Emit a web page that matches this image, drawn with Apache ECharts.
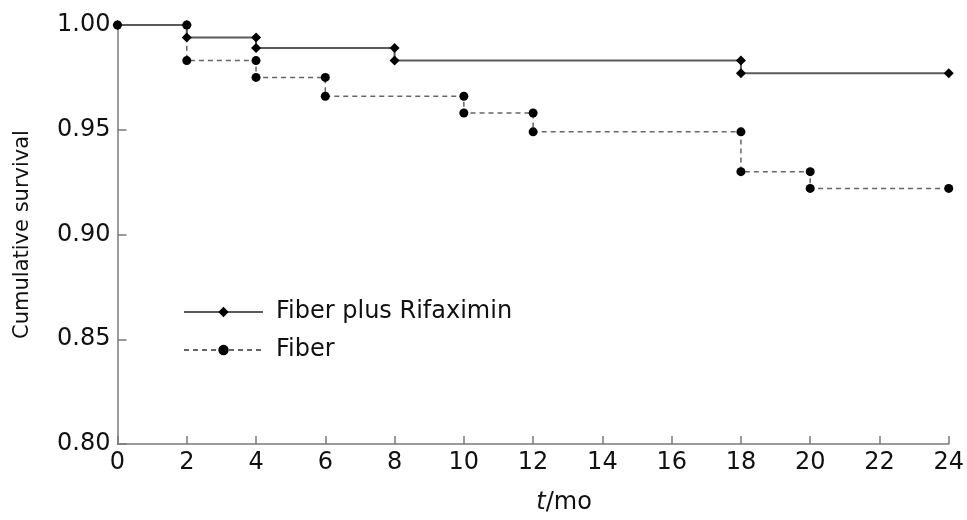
<!DOCTYPE html>
<html>
<head>
<meta charset="utf-8">
<script src="https://cdn.jsdelivr.net/npm/echarts@6/dist/echarts.min.js"></script>
<style>
  html, body { margin: 0; padding: 0; background: #fff; }
  #chart { width: 967px; height: 520px; }
</style>
</head>
<body>
<div id="chart"></div>
<script>
// Kaplan-Meier style survival
const xTicks = [0, 2, 4, 6, 8, 10, 12, 14, 16, 18, 20, 22, 24];

const rifaxName = 'Fiber plus Rifaximin';
const rifaxTimes = [0, 2, 4, 8, 18, 24];
const rifaxSurvival = [1.000, 0.994, 0.989, 0.983, 0.977, 0.977];

const fiberName = 'Fiber';
const fiberTimes = [0, 2, 4, 6, 10, 12, 18, 20, 24];
const fiberSurvival = [1.000, 0.983, 0.975, 0.966, 0.958, 0.949, 0.930, 0.922, 0.922];

// turn event times into step points (top and bottom of every drop)
function stepPoints(times, surv) {
  const pts = [];
  times.forEach((t, i) => {
    if (i > 0 && surv[i] !== surv[i - 1]) pts.push([t, surv[i - 1]]);
    pts.push([t, surv[i]]);
  });
  return pts;
}

const font = 'DejaVu Sans, Verdana, sans-serif';
const axisColor = '#7a7a7a';

const chart = echarts.init(document.getElementById('chart'));

chart.setOption({
  animation: false,
  backgroundColor: '#fff',
  textStyle: { fontFamily: font },
  grid: { left: 117.5, right: 15.5, top: 25, bottom: 73.3 },
  legend: {
    orient: 'vertical',
    left: 183,
    top: 299,
    padding: 0,
    itemWidth: 79,
    itemHeight: 13,
    itemGap: 12,
    textStyle: { fontSize: 24, color: '#111', lineHeight: 26, padding: [0, 0, 0, 8], fontFamily: font },
    data: [rifaxName, fiberName]
  },
  xAxis: {
    type: 'value',
    min: 0,
    max: 24,
    interval: 2,
    name: '{i|t}/mo',
    nameLocation: 'middle',
    nameGap: 47,
    nameTextStyle: {
      fontSize: 24,
      color: '#111',
      padding: [0, 0, 0, 62],
      rich: { i: { fontStyle: 'italic', fontSize: 24, color: '#111', fontFamily: font } }
    },
    axisLine: { lineStyle: { color: axisColor, width: 1.5 } },
    axisTick: { inside: true, length: 8, lineStyle: { color: axisColor, width: 1.5 } },
    axisLabel: {
      fontSize: 24, color: '#111', margin: 7,
      formatter: v => (xTicks.includes(v) ? String(v) : '')
    },
    splitLine: { show: false }
  },
  yAxis: {
    type: 'value',
    min: 0.80,
    max: 1.00,
    interval: 0.05,
    name: 'Cumulative survival',
    nameLocation: 'middle',
    nameGap: 84,
    nameTextStyle: { fontSize: 21, color: '#111' },
    axisLine: { show: true, lineStyle: { color: axisColor, width: 1.5 } },
    axisTick: { show: true, inside: true, length: 9, lineStyle: { color: axisColor, width: 1.5 } },
    axisLabel: { fontSize: 24, color: '#111', margin: 7, formatter: v => v.toFixed(2) },
    splitLine: { show: false }
  },
  series: [
    {
      name: fiberName,
      type: 'line',
      data: stepPoints(fiberTimes, fiberSurvival),
      symbol: 'circle',
      symbolSize: 9,
      itemStyle: { color: '#000' },
      lineStyle: { color: '#666', width: 1.5, type: [5, 4] },
      z: 2
    },
    {
      name: rifaxName,
      type: 'line',
      data: stepPoints(rifaxTimes, rifaxSurvival),
      symbol: 'diamond',
      symbolSize: 10,
      itemStyle: { color: '#000' },
      lineStyle: { color: '#5a5a5a', width: 2, type: 'solid' },
      z: 3
    }
  ]
});
</script>
</body>
</html>
